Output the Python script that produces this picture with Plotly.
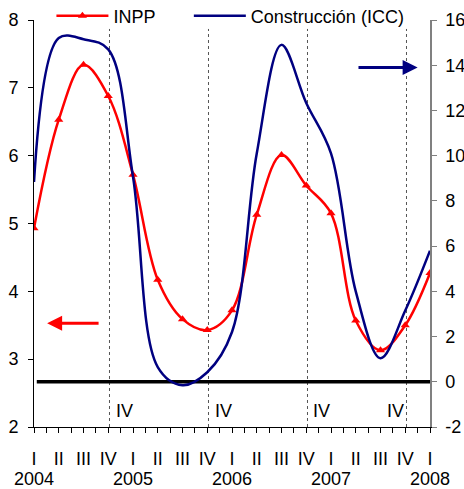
import plotly.graph_objects as go

# ---- data ----
QUARTERS = ["I", "II", "III", "IV", "I", "II", "III", "IV", "I", "II", "III", "IV",
            "I", "II", "III", "IV", "I"]
YEARS = ["2004", "2005", "2006", "2007", "2008"]
YEAR_POS = [0, 4, 8, 12, 16]
INPP = [4.93, 6.53, 7.34, 6.88, 5.72, 4.17, 3.59, 3.43, 3.72, 5.13, 6.01, 5.56,
        5.15, 3.57, 3.13, 3.50, 4.27]
ICC = [8.84, 15.2, 15.15, 14.7, 9.07, 0.65, -0.15, 0.42, 2.2, 10.1, 14.9, 12.33,
       10.1, 4.0, 1.04, 3.15, 5.8]
RIGHT_TICKS = [-2, 0, 2, 4, 6, 8, 10, 12, 14, 16]
RIGHT_TICK_TEXT = ["-2", "0", "2", "4", "6", "8", "10", "12", "14", "16"]
IV_LINES = [3, 7, 11, 15]
IV_LABEL_POS = [3.66, 7.64, 11.62, 14.59]

x = list(range(len(QUARTERS)))
FONT = "Liberation Sans, Arial, sans-serif"

fig = go.Figure()
fig.add_trace(go.Scatter(
    x=x, y=INPP, name="INPP", mode="lines+markers",
    line=dict(color="#FF0000", width=2.5, shape="spline", smoothing=1),
    marker=dict(symbol="triangle-up", size=8, color="#FF0000"),
    yaxis="y", legend="legend"))
fig.add_trace(go.Scatter(
    x=x, y=ICC, name="Construcción (ICC)", mode="lines",
    line=dict(color="#000080", width=2.5, shape="spline", smoothing=1),
    yaxis="y2", legend="legend2"))

shapes = []
for p in IV_LINES:
    shapes.append(dict(type="line", xref="x", yref="paper", x0=p + 0.05, x1=p + 0.05,
                       y0=0, y1=0.978, line=dict(color="#555555", width=1, dash="dot"),
                       layer="below"))
shapes.append(dict(type="line", xref="paper", yref="y2", x0=0.007, x1=1, y0=0, y1=0,
                   line=dict(color="black", width=3.5), layer="below"))

annotations = []
for p in IV_LABEL_POS:
    annotations.append(dict(x=p, y=2.235, xref="x", yref="y", text="IV", showarrow=False,
                            font=dict(size=18, color="black", family=FONT)))
for yr, p in zip(YEARS, YEAR_POS):
    annotations.append(dict(x=p, y=-0.128, xref="x", yref="paper", text=yr,
                            showarrow=False, yanchor="middle",
                            font=dict(size=18, color="black", family=FONT)))
# axis-indicator arrows
annotations.append(dict(x=0.53, y=3.53, xref="x", yref="y", ax=2.67, ay=3.53,
                        axref="x", ayref="y", text="", showarrow=True, arrowhead=2,
                        arrowsize=1, arrowwidth=3, arrowcolor="#FF0000"))
annotations.append(dict(x=15.5, y=13.9, xref="x", yref="y2", ax=13.05, ay=13.9,
                        axref="x", ayref="y2", text="", showarrow=True, arrowhead=2,
                        arrowsize=1, arrowwidth=3, arrowcolor="#000080"))

legend_common = dict(orientation="h", xanchor="left", y=1.01, yanchor="middle",
                     bgcolor="rgba(0,0,0,0)", font=dict(size=18, family=FONT),
                     itemwidth=52)

fig.update_layout(
    width=464, height=489,
    margin=dict(l=34, r=34, t=20, b=62, autoexpand=False),
    paper_bgcolor="white", plot_bgcolor="white",
    font=dict(family=FONT, size=18, color="black"),
    showlegend=True,
    legend=dict(x=0.044, **legend_common),
    legend2=dict(x=0.391, **legend_common),
    xaxis=dict(range=[0, 16], tickmode="array", tickvals=x, ticktext=QUARTERS,
               showline=True, linecolor="black", linewidth=1, showgrid=False,
               zeroline=False, ticks="outside", ticklen=5, tickcolor="black",
               ticklabelstandoff=10, automargin=False,
               minor=dict(dtick=0.5, tick0=0, ticks="outside", ticklen=5,
                          tickcolor="black", showgrid=False)),
    yaxis=dict(range=[2, 8], dtick=1, showline=True, linecolor="black", linewidth=1,
               showgrid=False, zeroline=False, ticks="outside", ticklen=5,
               tickcolor="black", ticklabelstandoff=6, automargin=False),
    yaxis2=dict(range=[-2, 16], tickmode="array", tickvals=RIGHT_TICKS,
                ticktext=RIGHT_TICK_TEXT, overlaying="y", side="right", showline=True,
                linecolor="#808080", linewidth=1.5, showgrid=False, zeroline=False,
                ticks="outside", ticklen=5, tickcolor="#808080", ticklabelstandoff=5,
                automargin=False),
    shapes=shapes, annotations=annotations,
)

fig.write_html("out.html", config={"displayModeBar": False},
               post_script="document.body.style.margin='0';document.body.style.overflow='hidden';")
